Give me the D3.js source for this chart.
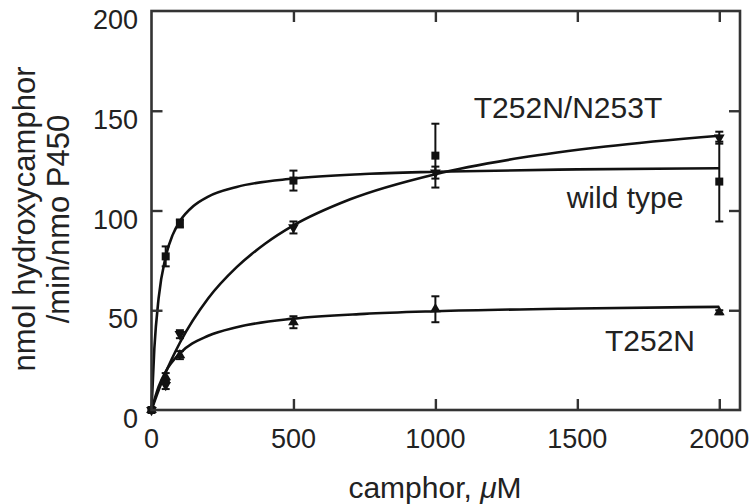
<!DOCTYPE html>
<html>
<head>
<meta charset="utf-8">
<script src="https://cdn.jsdelivr.net/npm/d3@7"></script>
<style>
  body { margin: 0; background: #fff; }
  text { font-family: "Liberation Sans", Arial, sans-serif; fill: #222; }
</style>
</head>
<body>
<div id="content"></div>
<script>
(function(d3) {

   var win_width = 750;
   var win_height = 504;

   // camphor concentrations (uM)
   var conc = [0, 50, 100, 500, 1000, 2000];

   // measured rates, nmol hydroxycamphor/min/nmol P450
   var wt_rate = [0, 77, 93.5, 115, 127.5, 114.5];
   var wt_err = [0, 5, 2, 5, 16, 20];
   var dbl_rate = [0, 12.5, 38, 91.5, 119, 136.5];   // T252N/N253T
   var dbl_err = [0, 2, 2, 3, 3, 3];
   var sgl_rate = [0, 16.5, 27.5, 44, 50.5, 49];    // T252N
   var sgl_err = [0, 2, 2, 3, 6.5, 1];

   // fitted curves
   var wt_fit_x = [0, 10, 25, 50, 75, 100, 150, 200, 300, 500, 750, 1000, 1500, 2000];
   var wt_fit_y = [0, 30.8, 55.9, 76.9, 87.9, 94.6, 102.5, 107, 111.8, 116, 118.3, 119.4, 120.6, 121.2];
   var dbl_fit_x = [0, 25, 50, 100, 200, 300, 400, 500, 700, 1000, 1300, 1600, 2000];
   var dbl_fit_y = [0, 9.9, 18.8, 33.7, 56, 71.6, 83.3, 92.5, 105.6, 118.2, 126.4, 132.1, 137.5];
   var sgl_fit_x = [0, 25, 50, 100, 200, 300, 500, 750, 1000, 1500, 2000];
   var sgl_fit_y = [0, 11.7, 19.3, 28.4, 37.2, 41.5, 45.8, 48.2, 49.5, 50.9, 51.7];

   var x_ticks = [0, 500, 1000, 1500, 2000];
   var y_ticks = [0, 50, 100, 150, 200];

   var svg = d3.select("#content")
            .append("svg")
            .attr("width", win_width)
            .attr("height", win_height);

   var x = d3.scaleLinear().domain([0, 2073]).range([151.5, 740]);
   var y = d3.scaleLinear().domain([0, 200]).range([410, 11]);

   var ink = "#111";
   var frame = "#333";
   var tick_len = 11;

   // fitted lines
   var line = d3.line()
              .x(function(p) { return x(p[0]); })
              .y(function(p) { return y(p[1]); })
              .curve(d3.curveMonotoneX);

   [[wt_fit_x, wt_fit_y], [dbl_fit_x, dbl_fit_y], [sgl_fit_x, sgl_fit_y]].forEach(function(f) {
        svg.append("path")
           .datum(d3.zip(f[0], f[1]))
           .attr("d", line)
           .attr("fill", "none")
           .attr("stroke", ink)
           .attr("stroke-width", 2.6);
   });

   // error bars
   function errbars(rate, err) {
        var pts = d3.zip(conc, rate, err).filter(function(p) { return p[2] > 0; });
        var g = svg.append("g").attr("stroke", ink).attr("stroke-width", 2);
        pts.forEach(function(p) {
            var cx = x(p[0]);
            g.append("line").attr("x1", cx).attr("x2", cx).attr("y1", y(p[1] - p[2])).attr("y2", y(p[1] + p[2]));
            g.append("line").attr("x1", cx - 4).attr("x2", cx + 4).attr("y1", y(p[1] - p[2])).attr("y2", y(p[1] - p[2]));
            g.append("line").attr("x1", cx - 4).attr("x2", cx + 4).attr("y1", y(p[1] + p[2])).attr("y2", y(p[1] + p[2]));
        });
   }
   errbars(wt_rate, wt_err);
   errbars(dbl_rate, dbl_err);
   errbars(sgl_rate, sgl_err);

   // markers
   var sq = d3.symbol().type(d3.symbolSquare).size(64);
   var tri = d3.symbol().type(d3.symbolTriangle).size(50);

   svg.append("g").selectAll("path")
      .data(d3.zip(conc, sgl_rate))
      .join("path")
      .attr("d", tri)
      .attr("transform", function(p) { return "translate(" + x(p[0]) + "," + y(p[1]) + ")"; })
      .attr("fill", ink);

   svg.append("g").selectAll("path")
      .data(d3.zip(conc, dbl_rate))
      .join("path")
      .attr("d", tri)
      .attr("transform", function(p) { return "translate(" + x(p[0]) + "," + y(p[1]) + ") rotate(180)"; })
      .attr("fill", ink);

   svg.append("g").selectAll("path")
      .data(d3.zip(conc, wt_rate))
      .join("path")
      .attr("d", sq)
      .attr("transform", function(p) { return "translate(" + x(p[0]) + "," + y(p[1]) + ")"; })
      .attr("fill", ink);

   // frame with inward ticks on all four sides
   var x0 = x.range()[0], x1 = x.range()[1], y0 = y.range()[0], y1 = y.range()[1];

   svg.append("g").attr("transform", "translate(0," + y0 + ")")
      .call(d3.axisTop(x).tickValues(x_ticks.slice(1)).tickSizeInner(tick_len).tickSizeOuter(0).tickFormat(""));
   svg.append("g").attr("transform", "translate(0," + y1 + ")")
      .call(d3.axisBottom(x).tickValues(x_ticks.slice(1)).tickSizeInner(tick_len).tickSizeOuter(0).tickFormat(""));
   svg.append("g").attr("transform", "translate(" + x0 + ",0)")
      .call(d3.axisRight(y).tickValues(y_ticks.slice(1, 4)).tickSizeInner(tick_len).tickSizeOuter(0).tickFormat(""));
   svg.append("g").attr("transform", "translate(" + x1 + ",0)")
      .call(d3.axisLeft(y).tickValues(y_ticks.slice(1, 4)).tickSizeInner(tick_len).tickSizeOuter(0).tickFormat(""));

   svg.selectAll(".domain").remove();
   svg.selectAll(".tick line").attr("stroke", frame).attr("stroke-width", 2.4);

   svg.append("rect")
      .attr("x", x0).attr("y", y1)
      .attr("width", x1 - x0).attr("height", y0 - y1)
      .attr("fill", "none")
      .attr("stroke", frame)
      .attr("stroke-width", 2.6);

   // tick labels
   svg.append("g").selectAll("text")
      .data(x_ticks)
      .join("text")
      .attr("x", function(d) { return x(d); })
      .attr("y", 448)
      .attr("text-anchor", "middle")
      .style("font-size", "27px")
      .text(function(d) { return d; });

   svg.append("g").selectAll("text")
      .data(y_ticks)
      .join("text")
      .attr("x", 138)
      .attr("y", function(d) { return y(d) + 18; })
      .attr("text-anchor", "end")
      .style("font-size", "27px")
      .text(function(d) { return d; });

   // axis titles
   var xt = svg.append("text")
      .attr("x", 435)
      .attr("y", 498)
      .attr("text-anchor", "middle")
      .style("font-size", "30px");
   xt.append("tspan").text("camphor, ");
   xt.append("tspan").style("font-style", "italic").text("\u03bc");
   xt.append("tspan").text("M");

   var yt = svg.append("text")
      .attr("transform", "translate(35,219) rotate(-90)")
      .attr("text-anchor", "middle")
      .style("font-size", "31px");
   yt.append("tspan").attr("x", 0).attr("dy", 0).text("nmol hydroxycamphor");
   yt.append("tspan").attr("x", 0).attr("dy", 34).text("/min/nmo P450");

   // series labels
   var labels = [
        {t: "T252N/N253T", x: 568, y: 118},
        {t: "wild type", x: 625, y: 208},
        {t: "T252N", x: 650, y: 351}
   ];
   svg.append("g").selectAll("text")
      .data(labels)
      .join("text")
      .attr("x", function(d) { return d.x; })
      .attr("y", function(d) { return d.y; })
      .attr("text-anchor", "middle")
      .style("font-size", "30px")
      .text(function(d) { return d.t; });

})(window.d3);
</script>
</body>
</html>
